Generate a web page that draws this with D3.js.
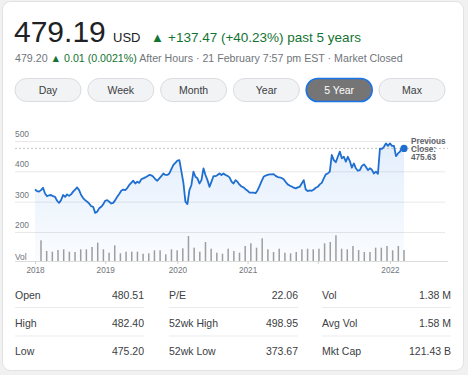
<!DOCTYPE html>
<html>
<head>
<meta charset="utf-8">
<script src="https://cdn.jsdelivr.net/npm/d3@7"></script>
<style>
    html, body { margin: 0; padding: 0; background: #f1f1f1; }
    svg { display: block; font-family: "Liberation Sans", Arial, sans-serif; }
</style>
</head>
<body>
<svg id="chart" width="468" height="375"></svg>
<script>
// ---- data ----
var lastPrice = "479.19";
var currency = "USD";
var changeText = "+137.47 (+40.23%) past 5 years";
var afterHoursPrice = "479.20";
var afterHoursChange = "0.01 (0.0021%)";
var afterHoursNote = "After Hours \u00b7 21 February 7:57 pm EST \u00b7 Market Closed";

var ranges = ["Day", "Week", "Month", "Year", "5 Year", "Max"];
var activeRange = "5 Year";

// closing prices, roughly every two weeks, Feb 2017 -> Feb 2022
var prices = [
    340, 335, 333, 338, 346, 327, 318, 321, 322, 318,
    316, 303, 296, 305, 322, 316, 324, 319, 324, 333,
    340, 347, 338, 322, 312, 305, 300, 294, 285, 283,
    263, 267, 278, 283, 291, 303, 305, 300, 294, 296,
    305, 316, 325, 336, 340, 338, 345, 355, 362, 369,
    360, 366, 362, 374, 377, 380, 384, 388, 387, 382,
    374, 369, 377, 384, 393, 388, 388, 393, 407, 421,
    428, 435, 437, 400, 362, 300, 292, 338, 355, 399,
    382, 377, 360, 371, 410, 388, 371, 349, 366, 384,
    384, 388, 393, 388, 393, 388, 385, 380, 366, 360,
    371, 365, 356, 350, 347, 341, 336, 330, 330, 330,
    328, 338, 352, 368, 382, 386, 388, 390, 390, 391,
    385, 381, 380, 378, 374, 365, 357, 353, 350, 346,
    344, 347, 349, 360, 371, 340, 335, 337, 336, 340,
    346, 349, 357, 362, 377, 390, 393, 399, 454, 437,
    430, 448, 465, 443, 448, 432, 448, 434, 412, 426,
    410, 402, 404, 418, 423, 415, 404, 410, 405, 393,
    399, 392, 475, 474, 481, 492, 484, 492, 484, 484,
    450, 459, 465, 478, 475.63
];

// monthly volume (millions)
var volumes = [
    2.07, 1.0, 0.93, 1.1, 1.17, 0.93, 0.9, 1.17, 1.17, 1.4,
    1.83, 1.17, 0.83, 1.57, 0.77, 0.93, 0.93, 0.93, 0.73, 0.77,
    1.07, 1.07, 0.67, 1.17, 1.07, 1.27, 2.5, 1.33, 0.93, 1.9,
    1.23, 0.83, 0.73, 1.23, 1.0, 0.83, 1.5, 1.77, 1.33, 2.27,
    1.17, 0.9, 1.23, 0.83, 0.77, 0.9, 1.17, 1.23, 1.17, 1.23,
    1.77, 1.9, 2.57, 1.23, 1.17, 1.5, 1.1, 0.9, 0.9, 1.33,
    1.33, 1.5, 1.07, 1.5, 1.1
];

var previousClose = 475.63;
var yTicks = [200, 300, 400, 500];
var xTickIndex = [0, 35, 71, 106, 141, 177];
var xTickLabels = ["2018", "2019", "2020", "2021", "", "2022"];

var statsRows = [
    ["Open", "480.51", "P/E", "22.06", "Vol", "1.38 M"],
    ["High", "482.40", "52wk High", "498.95", "Avg Vol", "1.58 M"],
    ["Low", "475.20", "52wk Low", "373.67", "Mkt Cap", "121.43 B"]
];

(function () {
    "use strict";

    var svg = d3.select("#chart");
    var GREEN = "#137333", GREY = "#70757a", LINE = "#1f6fd0";

    // card
    svg.append("rect")
        .attr("x", 2.5).attr("y", 1.5)
        .attr("width", 461).attr("height", 369)
        .attr("rx", 8)
        .attr("fill", "#fff")
        .attr("stroke", "#e2e2e2");

    // ---- header ----
    var head = svg.append("text").attr("y", 41.5);
    head.append("tspan").attr("x", 14).attr("font-size", 30).attr("fill", "#202124").text(lastPrice);
    head.append("tspan").attr("x", 113).attr("font-size", 13).attr("fill", "#202124").text(currency);
    head.append("tspan").attr("x", 151).attr("font-size", 13).attr("fill", GREEN).text("\u25b2");
    head.append("tspan").attr("x", 168).attr("font-size", 13.5).attr("fill", GREEN).text(changeText);

    var sub = svg.append("text").attr("x", 15).attr("y", 62).attr("font-size", 10.65);
    sub.append("tspan").attr("fill", GREY).text(afterHoursPrice + " ");
    sub.append("tspan").attr("fill", GREEN).text("\u25b2 " + afterHoursChange + " ");
    sub.append("tspan").attr("fill", GREY).text(afterHoursNote);

    // ---- range buttons ----
    var btn = svg.append("g").selectAll("g")
        .data(ranges)
        .enter().append("g")
        .attr("transform", function (d, i) { return "translate(" + (15 + i * 72.8) + ",78.5)"; });

    btn.append("rect")
        .attr("width", 66).attr("height", 23).attr("rx", 11.5)
        .attr("fill", function (d) { return d === activeRange ? "#757575" : "#f1f3f4"; })
        .attr("stroke", function (d) { return d === activeRange ? "#1a73e8" : "#dadce0"; })
        .attr("stroke-width", function (d) { return d === activeRange ? 1.6 : 1; });

    btn.append("text")
        .attr("x", 33).attr("y", 15.5)
        .attr("text-anchor", "middle")
        .attr("font-size", 10.5)
        .attr("fill", function (d) { return d === activeRange ? "#fff" : "#3c4043"; })
        .text(String);

    // ---- price chart ----
    var x = d3.scaleLinear().domain([0, prices.length - 1]).range([35, 404]);
    var y = d3.scaleLinear().domain([200, 500]).range([232, 141]);
    var xVol = d3.scaleLinear().domain([0, volumes.length - 1]).range([41, 404]);
    var yVol = d3.scaleLinear().domain([0, 2.6]).range([261, 235]);

    var defs = svg.append("defs");
    var grad = defs.append("linearGradient")
        .attr("id", "fillGrad")
        .attr("x1", 0).attr("y1", 0).attr("x2", 0).attr("y2", 1);
    grad.append("stop").attr("offset", "0%").attr("stop-color", "#1a73e8").attr("stop-opacity", 0.12);
    grad.append("stop").attr("offset", "100%").attr("stop-color", "#1a73e8").attr("stop-opacity", 0.02);

    // grid lines
    var grid = svg.append("g");
    grid.selectAll("line")
        .data(yTicks)
        .enter().append("line")
        .attr("x1", 15).attr("x2", 445)
        .attr("y1", function (d) { return y(d) + 0.5; })
        .attr("y2", function (d) { return y(d) + 0.5; })
        .attr("stroke", "#e8e8e8");
    grid.selectAll("text")
        .data(yTicks)
        .enter().append("text")
        .attr("x", 15)
        .attr("y", function (d) { return y(d) - 4; })
        .attr("font-size", 8.4)
        .attr("fill", GREY)
        .text(String);

    svg.append("text")
        .attr("x", 15).attr("y", 260)
        .attr("font-size", 8.4)
        .attr("fill", GREY)
        .text("Vol");

    // area + line
    var area = d3.area()
        .x(function (d, i) { return x(i); })
        .y0(261)
        .y1(function (d) { return y(d); });
    var line = d3.line()
        .x(function (d, i) { return x(i); })
        .y(function (d) { return y(d); });

    svg.append("path")
        .datum(prices)
        .attr("d", area)
        .attr("fill", "url(#fillGrad)");

    // volume bars
    svg.append("g").selectAll("rect")
        .data(volumes)
        .enter().append("rect")
        .attr("x", function (d, i) { return xVol(i) - 0.75; })
        .attr("y", function (d) { return yVol(d); })
        .attr("width", 1.5)
        .attr("height", function (d) { return 261 - yVol(d); })
        .attr("fill", "#9e9e9e");

    // previous close
    svg.append("line")
        .attr("x1", 15).attr("x2", 448)
        .attr("y1", y(previousClose)).attr("y2", y(previousClose))
        .attr("stroke", "#c4c4c4")
        .attr("stroke-dasharray", "2,2");

    svg.append("path")
        .datum(prices)
        .attr("d", line)
        .attr("fill", "none")
        .attr("stroke", LINE)
        .attr("stroke-width", 1.8)
        .attr("stroke-linejoin", "round");

    svg.append("circle")
        .attr("cx", x(prices.length - 1))
        .attr("cy", y(prices[prices.length - 1]))
        .attr("r", 3.6)
        .attr("fill", LINE);

    var pc = svg.append("text")
        .attr("font-size", 8.2)
        .attr("font-weight", "bold")
        .attr("fill", "#5f6368");
    ["Previous", "Close:", d3.format(".2f")(previousClose)].forEach(function (t, i) {
        pc.append("tspan").attr("x", 411).attr("y", 143.5 + i * 8.3).text(t);
    });

    // x axis
    var xAxis = d3.axisBottom(x)
        .tickValues(xTickIndex)
        .tickFormat(function (d, i) { return xTickLabels[i]; })
        .tickSize(3)
        .tickPadding(3);

    var gx = svg.append("g")
        .attr("transform", "translate(0,261)")
        .call(xAxis);
    gx.select(".domain").remove();
    gx.insert("line", ":first-child")
        .attr("x1", 15).attr("x2", 448)
        .attr("y1", 0.5).attr("y2", 0.5)
        .attr("stroke", "#dcdcdc");
    gx.selectAll(".tick line").attr("stroke", "#d0d0d0");
    gx.selectAll(".tick text")
        .attr("font-family", "'Liberation Sans', Arial, sans-serif")
        .attr("font-size", 8.2)
        .attr("fill", GREY);

    // ---- stats table ----
    var colX = [15, 169, 322];
    var rowY = [298.5, 327, 355];
    var stats = svg.append("g");
    statsRows.forEach(function (row, r) {
        colX.forEach(function (cx, c) {
            stats.append("text")
                .attr("x", cx).attr("y", rowY[r])
                .attr("font-size", 10.5)
                .attr("fill", "#3c4043")
                .text(row[c * 2]);
            stats.append("text")
                .attr("x", cx + 129).attr("y", rowY[r])
                .attr("text-anchor", "end")
                .attr("font-size", 10.5)
                .attr("fill", "#3c4043")
                .text(row[c * 2 + 1]);
            if (r < 2) {
                stats.append("line")
                    .attr("x1", cx).attr("x2", cx + 129)
                    .attr("y1", rowY[r] + 9).attr("y2", rowY[r] + 9)
                    .attr("stroke", "#ebebeb");
            }
        });
    });
}());
</script>
</body>
</html>
